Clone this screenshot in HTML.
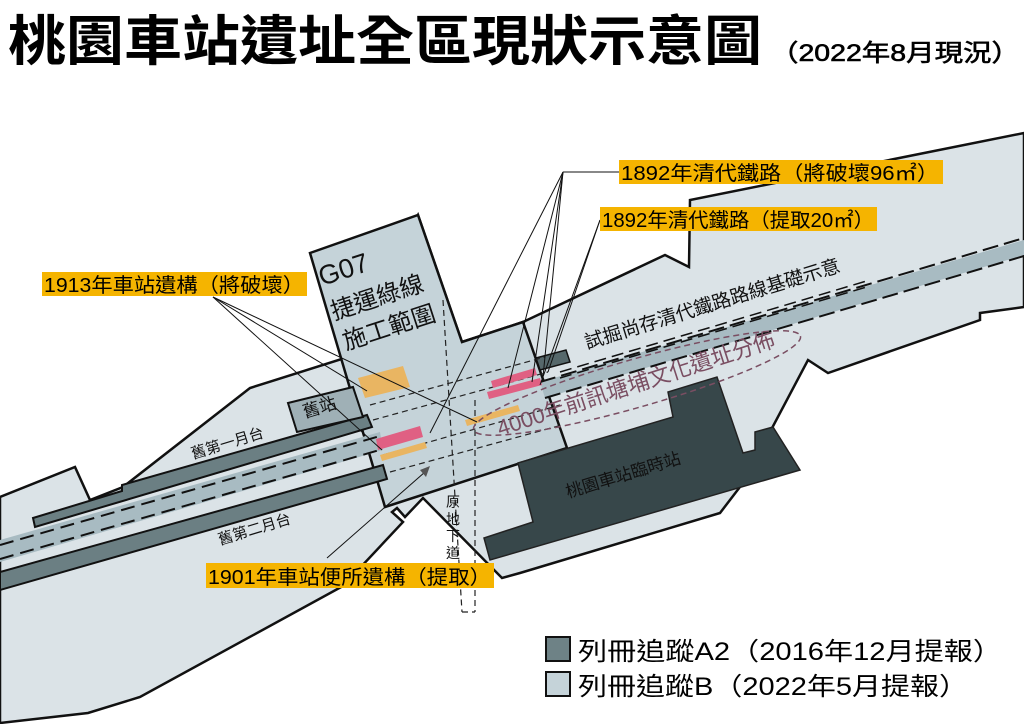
<!DOCTYPE html>
<html><head><meta charset="utf-8">
<style>
html,body{margin:0;padding:0;background:#fff;overflow:hidden;}
svg{display:block;}
text{font-family:"Liberation Sans","Noto Sans CJK TC",sans-serif;}
</style></head>
<body>
<svg width="1024" height="724" viewBox="0 0 1024 724" xmlns="http://www.w3.org/2000/svg">
<!-- Title -->
<text x="8" y="60" font-size="54" font-weight="bold" textLength="754" lengthAdjust="spacingAndGlyphs" fill="#000">桃園車站遺址全區現狀示意圖</text>
<text x="770" y="61" font-size="24" textLength="250" lengthAdjust="spacingAndGlyphs" fill="#000" stroke="#000" stroke-width="0.6">（2022年8月現況）</text>

<!-- main light area -->
<polygon points="0,497 75,467 90,500 123,487 250,388 345,358 418,215 462,342 523,322 665,255 689,267 690,200 1024,133 1024,307 980,313 980,320 828,373 808,360 743,483 720,513 520,573 502,578 423,498 405,517 397,508 392,512 403,522 343,586 140,697 88,713 0,723" fill="#dbe3e7" stroke="#111" stroke-width="2.5" stroke-linejoin="miter"/>

<!-- G07 box -->
<polygon points="310,253 418,215 462,342 523,322 567,448 385,507" fill="#c5d3d9" stroke="#111" stroke-width="2.5"/>

<!-- left track band -->
<polygon points="0,540 380,432 383,450 0,562" fill="#a8bbc2"/>
<line x1="0" y1="545" x2="380" y2="436" stroke="#111" stroke-width="2" stroke-dasharray="14,7"/>
<line x1="0" y1="559" x2="383" y2="449" stroke="#111" stroke-width="2" stroke-dasharray="14,7"/>
<!-- platform 2 -->
<polygon points="0,572 383,465 387,479 0,590" fill="#6b7f83" stroke="#111" stroke-width="2"/>
<!-- platform 1 -->
<polygon points="33,518 122,491 122,485 367,415 372,427 35,527" fill="#6b7f83" stroke="#111" stroke-width="2"/>
<!-- old station -->
<polygon points="288,403 353,387 363,417 297,432" fill="#9fb0b6" stroke="#111" stroke-width="2"/>

<!-- right track band -->
<polygon points="540,382 1024,240 1024,255 545,398" fill="#a8bbc2"/>
<line x1="540" y1="382" x2="1024" y2="238" stroke="#111" stroke-width="2" stroke-dasharray="16,6"/>
<line x1="545" y1="398" x2="1024" y2="256" stroke="#111" stroke-width="2" stroke-dasharray="16,6"/>
<line x1="560" y1="372" x2="870" y2="280" stroke="#111" stroke-width="1.5" stroke-dasharray="12,6"/>
<line x1="560" y1="378" x2="870" y2="286" stroke="#111" stroke-width="1.5" stroke-dasharray="12,6"/>
<polygon points="536,358 566,350 570,362 540,370" fill="#56686b" stroke="#111" stroke-width="1.5"/>

<!-- dark building -->
<polygon points="518,463 673,417 668,392 717,377 743,453 755,450 755,432 773,427 800,470 490,560 484,538 533,522" fill="#37474a" stroke="#222" stroke-width="1.5"/>
<text transform="translate(568,498) rotate(-17)" font-size="17" fill="#111">桃園車站臨時站</text>

<!-- G07 interior dashed lines -->
<g stroke="#222" stroke-width="1.2" stroke-dasharray="6,4" fill="none">
<line x1="370" y1="405" x2="545" y2="357"/>
<line x1="373" y1="420" x2="548" y2="372"/>
<line x1="383" y1="455" x2="560" y2="405"/>
<line x1="390" y1="472" x2="562" y2="425"/>
<line x1="443" y1="300" x2="462" y2="612"/>
<line x1="475" y1="400" x2="475" y2="612"/>
<line x1="462" y1="612" x2="475" y2="612"/>
</g>
<!-- orange / pink blocks -->
<polygon points="358,378 403,366 410,387 365,398" fill="#e9b562"/>
<polygon points="380,455 425,442 427,448 382,461" fill="#e9b562"/>
<polygon points="465,420 518,405 520,411 467,426" fill="#e9b562"/>
<polygon points="376,439 420,426 423,437 378,450" fill="#e06083"/>
<polygon points="487,392 540,378 542,385 489,399" fill="#e06083"/>
<polygon points="491,381 535,368 537,375 493,388" fill="#e06083"/>

<!-- dashed ellipse -->
<ellipse cx="637" cy="383" rx="170" ry="24" transform="rotate(-16 637 383)" fill="none" stroke="#7a4e62" stroke-width="1.5" stroke-dasharray="6,4"/>
<text transform="translate(500,436) rotate(-18)" font-size="22" fill="#7a4e62">4000年前訊塘埔文化遺址分佈</text>
<text transform="translate(587,349) rotate(-17)" font-size="19" fill="#111">試掘尚存清代鐵路路線基礎示意</text>

<text transform="translate(193,459) rotate(-17)" font-size="15" fill="#111">舊第一月台</text>
<text transform="translate(220,545) rotate(-17)" font-size="15" fill="#111">舊第二月台</text>
<text transform="translate(305,418) rotate(-17)" font-size="17" fill="#111">舊站</text>
<g font-size="14" fill="#111"><text x="446" y="507">原</text><text x="446" y="524">地</text><text x="446" y="541">下</text><text x="446" y="558">道</text></g>

<text transform="translate(322,286) rotate(-18)" font-size="27" fill="#111">G07</text>
<text transform="translate(334,320) rotate(-18)" font-size="24" fill="#111">捷運綠線</text>
<text transform="translate(346,350) rotate(-18)" font-size="24" fill="#111">施工範圍</text>

<!-- leader lines -->
<g stroke="#111" stroke-width="1" fill="none">
<line x1="619" y1="172" x2="563" y2="172"/>
<line x1="563" y1="172" x2="430" y2="433"/>
<line x1="563" y1="172" x2="508" y2="388"/>
<line x1="563" y1="172" x2="532" y2="382"/>
<line x1="563" y1="172" x2="543" y2="377"/>
<line x1="600" y1="220" x2="548" y2="372"/>
<line x1="600" y1="220" x2="540" y2="385"/>
<line x1="213" y1="297" x2="367" y2="391"/>
<line x1="213" y1="297" x2="382" y2="450"/>
<line x1="213" y1="297" x2="477" y2="422"/>
<line x1="327" y1="558" x2="425" y2="472"/>
</g>
<polygon points="430,466 420,470 426,477" fill="#555"/>

<!-- labels -->
<rect x="619" y="160" width="324" height="24" fill="#f5b400"/>
<text x="621" y="180" font-size="20" fill="#000" textLength="318" lengthAdjust="spacingAndGlyphs">1892年清代鐵路（將破壞96㎡）</text>
<rect x="600" y="207" width="277" height="24" fill="#f5b400"/>
<text x="602" y="227" font-size="20" fill="#000" textLength="272" lengthAdjust="spacingAndGlyphs">1892年清代鐵路（提取20㎡）</text>
<rect x="42" y="272" width="265" height="24" fill="#f5b400"/>
<text x="44" y="292" font-size="20" fill="#000" textLength="260" lengthAdjust="spacingAndGlyphs">1913年車站遺構（將破壞）</text>
<rect x="206" y="563" width="288" height="25" fill="#f5b400"/>
<text x="208" y="584" font-size="20" fill="#000" textLength="283" lengthAdjust="spacingAndGlyphs">1901年車站便所遺構（提取）</text>

<!-- legend -->
<rect x="546" y="637" width="24" height="24" fill="#6e8286" stroke="#111" stroke-width="2"/>
<text x="578" y="660" font-size="25" fill="#000" textLength="424" lengthAdjust="spacingAndGlyphs">列冊追蹤A2（2016年12月提報）</text>
<rect x="546" y="672" width="24" height="24" fill="#c5d3d9" stroke="#111" stroke-width="2"/>
<text x="578" y="695" font-size="25" fill="#000" textLength="390" lengthAdjust="spacingAndGlyphs">列冊追蹤B（2022年5月提報）</text>
</svg>
</body></html>
